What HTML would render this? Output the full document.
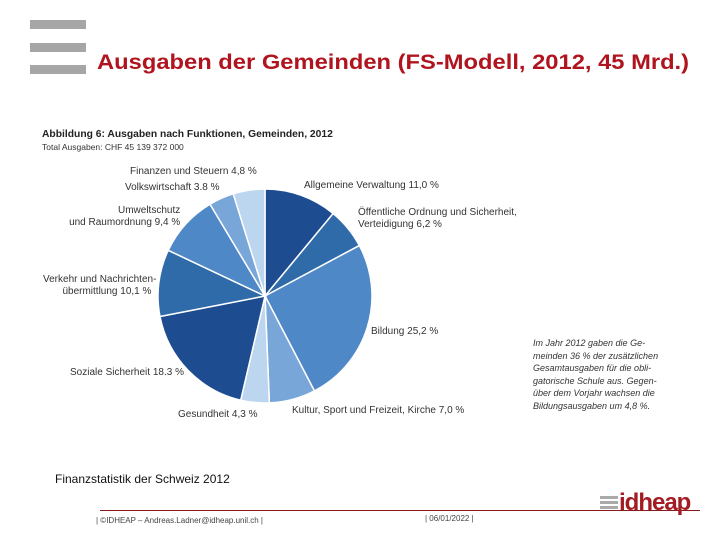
<!DOCTYPE html>
<html><head><meta charset="utf-8"><style>
body{margin:0;background:#fff}
#page{position:relative;width:720px;height:540px;overflow:hidden;background:#fff;font-family:"Liberation Sans",sans-serif}
.t{position:absolute;white-space:nowrap}
.lbl{font-size:10px;color:#333}
</style></head><body>
<div id="page">
<div class="t" style="left:30px;top:20px;width:56px;height:9px;background:#a6a6a6"></div>
<div class="t" style="left:30px;top:43px;width:56px;height:9px;background:#a6a6a6"></div>
<div class="t" style="left:30px;top:65px;width:56px;height:9px;background:#a6a6a6"></div>
<div class="t" style="left:97px;top:51px;font-size:21px;font-weight:bold;color:#b0141e;transform:scaleX(1.13);transform-origin:left">Ausgaben der Gemeinden (FS-Modell, 2012, 45 Mrd.)</div>
<div class="t" style="left:42px;top:129px;font-size:10.3px;font-weight:bold;color:#222">Abbildung 6: Ausgaben nach Funktionen, Gemeinden, 2012</div>
<div class="t" style="left:42px;top:142px;font-size:8.5px;color:#333">Total Ausgaben: CHF 45 139 372 000</div>
<svg id="pie" width="720" height="540" style="position:absolute;left:0;top:0"></svg>
<div class="t lbl" style="left:130px;top:166px">Finanzen und Steuern 4,8 %</div>
<div class="t lbl" style="left:125px;top:182px">Volkswirtschaft 3.8 %</div>
<div class="t lbl" style="left:118px;top:205px;text-align:right;line-height:12px"><span>Umweltschutz</span><br><span style="margin-left:-55px">und Raumordnung 9,4 %</span></div>
<div class="t lbl" style="left:43px;top:274px;line-height:12px">Verkehr und Nachrichten-<br>&nbsp;&nbsp;&nbsp;&nbsp;&nbsp;&nbsp;&nbsp;übermittlung 10,1 %</div>
<div class="t lbl" style="left:70px;top:367px">Soziale Sicherheit 18.3 %</div>
<div class="t lbl" style="left:178px;top:409px">Gesundheit 4,3 %</div>
<div class="t lbl" style="left:292px;top:405px">Kultur, Sport und Freizeit, Kirche 7,0 %</div>
<div class="t lbl" style="left:371px;top:326px">Bildung 25,2 %</div>
<div class="t lbl" style="left:304px;top:180px">Allgemeine Verwaltung 11,0 %</div>
<div class="t lbl" style="left:358px;top:207px;line-height:12px">Öffentliche Ordnung und Sicherheit,<br>Verteidigung 6,2 %</div>
<div class="t" style="left:533px;top:337px;font-size:9px;font-style:italic;color:#333;line-height:12.5px">Im Jahr 2012 gaben die Ge-<br>meinden 36 % der zusätzlichen<br>Gesamtausgaben für die obli-<br>gatorische Schule aus. Gegen-<br>über dem Vorjahr wachsen die<br>Bildungsausgaben um 4,8 %.</div>
<div class="t" style="left:55px;top:472px;font-size:12px;color:#111">Finanzstatistik der Schweiz 2012</div>
<div class="t" style="left:100px;top:510px;width:600px;height:1px;background:#8b1a1a"></div>
<div class="t" style="left:96px;top:516px;font-size:8px;color:#444">| ©IDHEAP – Andreas.Ladner@idheap.unil.ch |</div>
<div class="t" style="left:425px;top:514px;font-size:8px;color:#444">| 06/01/2022 |</div>
<div class="t" style="left:600px;top:496px;width:18px;height:14px;background:repeating-linear-gradient(#aaa 0 3px,#fff 3px 5px)"></div>
<div class="t" style="left:619px;top:489px;font-size:24px;font-weight:bold;color:#a31c24;letter-spacing:-1px">idheap</div>
</div>
<script>
const categories=["Allgemeine Verwaltung","Öffentliche Ordnung","Bildung","Kultur","Gesundheit","Soziale Sicherheit","Verkehr","Umwelt","Volkswirtschaft","Finanzen"];
const values=[11.0,6.2,25.2,7.0,4.3,18.3,10.1,9.4,3.8,4.8];
const colors=["#1d4c91","#2f6aa9","#4f88c7","#79a6d9","#bcd6ef","#1d4c91","#2f6aa9","#4f88c7","#79a6d9","#bcd6ef"];
const svg=document.getElementById('pie');
const cx=265,cy=296,r=107;
const total=values.reduce((a,b)=>a+b,0);
let a0=-Math.PI/2;
values.forEach((v,i)=>{
 const a1=a0+v/total*2*Math.PI;
 const x0=cx+r*Math.cos(a0),y0=cy+r*Math.sin(a0),x1=cx+r*Math.cos(a1),y1=cy+r*Math.sin(a1);
 const p=document.createElementNS('http://www.w3.org/2000/svg','path');
 p.setAttribute('d',`M${cx},${cy}L${x0},${y0}A${r},${r} 0 ${a1-a0>Math.PI?1:0} 1 ${x1},${y1}Z`);
 p.setAttribute('fill',colors[i]);p.setAttribute('stroke','#fff');p.setAttribute('stroke-width','1.5');
 
 
 svg.appendChild(p);
 a0=a1;
});
</script>
</body></html>
